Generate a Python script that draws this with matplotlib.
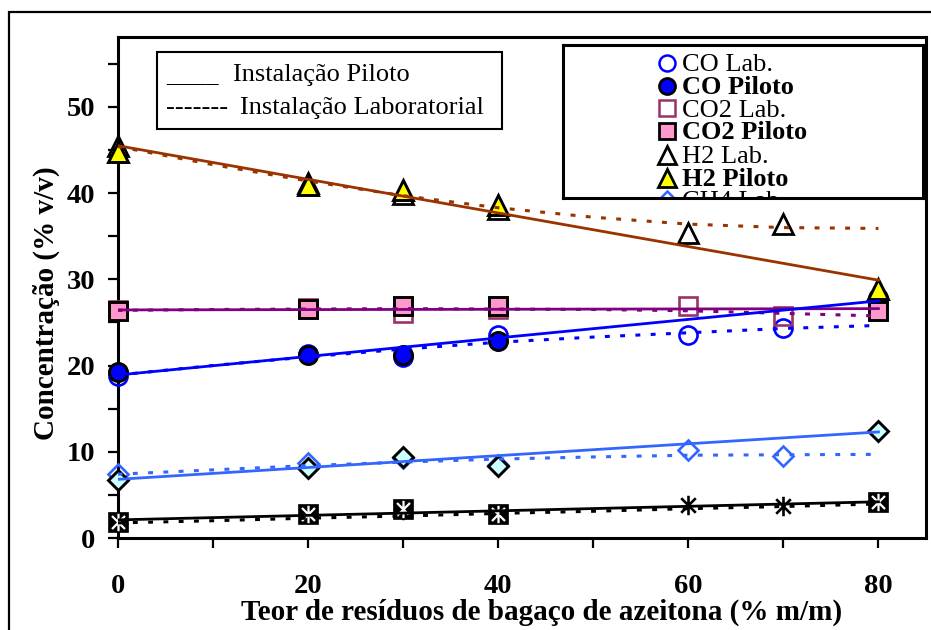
import numpy as np
import matplotlib
matplotlib.use('Agg')
import matplotlib.pyplot as plt
from matplotlib.path import Path
from matplotlib.patches import Rectangle

plt.rcParams['font.family'] = ['Liberation Serif', 'DejaVu Serif']

# ---------------- data ----------------
x_pilot = [0, 20, 30, 40, 80]
x_lab = [0, 20, 30, 40, 60, 70]

co_pilot = [19.2, 21.2, 21.2, 22.85, 27.8]
co_lab = [18.8, 21.3, 21.0, 23.5, 23.5, 24.4]
co2_pilot = [26.3, 26.55, 26.85, 26.9, 26.3]
co2_lab = [26.45, 26.65, 26.1, 26.6, 26.9, 25.7]
h2_pilot = [44.8, 40.9, 40.4, 38.6, 28.9]
h2_lab = [45.5, 41.2, 39.9, 38.2, 35.4, 36.4]
ch4_pilot = [6.7, 8.1, 9.45, 8.35, 12.4]
ch4_lab = [7.4, 8.65, 9.3, 8.5, 10.2, 9.55]
cxhy_pilot = [1.8, 2.8, 3.35, 2.75, 4.2]
cxhy_lab = [1.8, 2.8, 3.3, 2.8, 3.8, 3.75]

# trend lines (pilot: solid, lab: dotted)
x_fit_pilot = [0, 80]
co_fit_pilot = [18.9, 27.5]
co2_fit_pilot = [26.45, 26.6]
h2_fit_pilot = [45.5, 29.9]
ch4_fit_pilot = [6.8, 12.3]
cxhy_fit_pilot = [2.1, 4.2]

x_fit_lab = [0, 10, 20, 30, 40, 50, 60, 70, 80]
co_fit_lab = [18.9, 20.0, 21.0, 21.9, 22.7, 23.3, 23.8, 24.3, 24.65]
co2_fit_lab = [26.4, 26.5, 26.55, 26.6, 26.55, 26.5, 26.35, 26.05, 25.75]
h2_fit_lab = [45.4, 43.3, 41.4, 39.7, 38.3, 37.2, 36.4, 36.0, 35.9]
ch4_fit_lab = [7.4, 7.9, 8.4, 8.8, 9.15, 9.4, 9.6, 9.65, 9.7]
cxhy_fit_lab = [1.75, 2.0, 2.3, 2.55, 2.85, 3.1, 3.4, 3.65, 3.95]

legend_labels = ['CO Lab.', 'CO Piloto', 'CO2 Lab.', 'CO2 Piloto',
                 'H2 Lab.', 'H2 Piloto', 'CH4 Lab.']
style_labels = ['Instalação Piloto', 'Instalação Laboratorial']

x_ticks = [0, 20, 40, 60, 80]
y_ticks = [0, 10, 20, 30, 40, 50]

# ---------------- figure ----------------
W, H = 931, 630
fig = plt.figure(figsize=(W / 100, H / 100), dpi=100)

def fx(px):
    return px / W

def fy(py):
    return 1 - py / H

# outer frame (top and left edges visible)
fig.add_artist(Rectangle((fx(9), fy(700)), fx(1000), fy(12) - fy(700),
                         transform=fig.transFigure, fill=False,
                         lw=1.6, ec='black'))

ax_l, ax_r, ax_t, ax_b = 117.6, 926, 37, 538
ax = fig.add_axes([fx(ax_l), fy(ax_b), fx(ax_r - ax_l), fy(ax_t) - fy(ax_b)])
ax.set_xlim(0, 85)
ax.set_ylim(0, 58.1)
for s in ax.spines.values():
    s.set_linewidth(2.2)
ax.set_xticks(x_ticks)
ax.set_xticks([10, 30, 50, 70], minor=True)
ax.set_yticks(y_ticks)
ax.set_yticks([5, 15, 25, 35, 45, 55], minor=True)
ax.tick_params(axis='both', which='both', direction='out', length=7, width=1.6)
ax.tick_params(axis='x', which='major', pad=19, labelsize=20.5)
ax.tick_params(axis='y', which='major', pad=9, labelsize=20.5)
for lab in ax.get_xticklabels() + ax.get_yticklabels():
    lab.set_fontweight('bold')

# asterisk marker (vertical + X)
ast = Path([(0, -1), (0, 1), (-0.75, -0.75), (0.75, 0.75), (-0.75, 0.75), (0.75, -0.75)],
           [Path.MOVETO, Path.LINETO, Path.MOVETO, Path.LINETO, Path.MOVETO, Path.LINETO])

mk = dict(ls='none', clip_on=False)
# lab markers (hollow)
ax.plot(x_lab, co_lab, marker='o', ms=13, mfc='none', mec='#0000FF', mew=1.9, zorder=3, **mk)
ax.plot(x_lab, co2_lab, marker='s', ms=13, mfc='none', mec='#993366', mew=1.9, zorder=3, **mk)
ax.plot(x_lab, h2_lab, marker='^', ms=15, mfc='none', mec='black', mew=2.0, zorder=3, **mk)
ax.plot(x_lab, ch4_lab, marker='D', ms=10, mfc='none', mec='#3366FF', mew=1.9, zorder=3, **mk)
ax.plot(x_lab, cxhy_lab, marker=ast, ms=14, mfc='none', mec='black', mew=1.9, zorder=3, **mk)

# pilot markers (filled)
ax.plot(x_pilot, co_pilot, marker='o', ms=13, mfc='#0000FF', mec='black', mew=2.1, zorder=4, **mk)
ax.plot(x_pilot, co2_pilot, marker='s', ms=12.5, mfc='#FF99CC', mec='black', mew=2.1, zorder=4, **mk)
ax.plot(x_pilot, h2_pilot, marker='^', ms=15, mfc='#FFFF00', mec='black', mew=2.1, zorder=4, **mk)
ax.plot(x_pilot, ch4_pilot, marker='D', ms=10, mfc='#CCFFFF', mec='black', mew=2.1, zorder=4, **mk)
ax.plot(x_pilot, cxhy_pilot, marker='s', ms=14, mfc='black', mec='black', mew=0.5, zorder=4, **mk)
ax.plot(x_pilot, cxhy_pilot, marker=ast, ms=12.5, mfc='none', mec='white', mew=1.6, zorder=4.1, **mk)

# trend lines
dot = dict(lw=2.2, ls=(0, (1.6, 3.4)), zorder=5)
sol = dict(lw=2.0, ls='-', zorder=6)
ax.plot(x_fit_lab, h2_fit_lab, color='#993300', **dot)
ax.plot(x_fit_lab, co2_fit_lab, color='#800080', **dot)
ax.plot(x_fit_lab, co_fit_lab, color='#0000FF', **dot)
ax.plot(x_fit_lab, ch4_fit_lab, color='#3366FF', **dot)
ax.plot(x_fit_lab, cxhy_fit_lab, color='black', **dot)
ax.plot(x_fit_pilot, h2_fit_pilot, color='#993300', **sol)
ax.plot(x_fit_pilot, co2_fit_pilot, color='#800080', **sol)
ax.plot(x_fit_pilot, co_fit_pilot, color='#0000FF', **sol)
ax.plot(x_fit_pilot, ch4_fit_pilot, color='#3366FF', **sol)
ax.plot(x_fit_pilot, cxhy_fit_pilot, color='black', **sol)

# axis labels
fig.text(fx(542), fy(612), 'Teor de resíduos de bagaço de azeitona (% m/m)',
         ha='center', va='center', fontsize=21, fontweight='bold')
fig.text(fx(46), fy(303), 'Concentração (% v/v)', rotation=90,
         ha='center', va='center', fontsize=21, fontweight='bold')

# line-style legend box
fig.add_artist(Rectangle((fx(157), fy(129)), fx(502 - 157), fy(52) - fy(129),
                         transform=fig.transFigure, fill=False, lw=1.5, ec='black', zorder=10))
fig.text(fx(166), fy(81), '____', fontsize=19, ha='left', va='baseline')
fig.text(fx(233), fy(81), style_labels[0], fontsize=19, ha='left', va='baseline')
fig.text(fx(166), fy(114), '-------', fontsize=19, ha='left', va='baseline')
fig.text(fx(240), fy(114), style_labels[1], fontsize=19, ha='left', va='baseline')

# series legend (clipped box)
lx0, lx1, ly0, ly1 = 562.7, 923, 44.7, 198
lax = fig.add_axes([fx(lx0), fy(ly1), fx(lx1 - lx0), fy(ly0) - fy(ly1)])
lax.set_xlim(lx0, lx1)
lax.set_ylim(ly1, ly0)
lax.set_xticks([])
lax.set_yticks([])
for s in lax.spines.values():
    s.set_linewidth(2.2)
rows = [62.7, 85.7, 108.3, 131, 155, 177.7, 200]
styles = [
    dict(marker='o', ms=11.5, mfc='none', mec='#0000FF', mew=1.8),
    dict(marker='o', ms=11.5, mfc='#0000FF', mec='black', mew=2.0),
    dict(marker='s', ms=11.5, mfc='none', mec='#993366', mew=1.8),
    dict(marker='s', ms=11, mfc='#FF99CC', mec='black', mew=2.0),
    dict(marker='^', ms=12.5, mfc='none', mec='black', mew=2.0),
    dict(marker='^', ms=12.5, mfc='#FFFF00', mec='black', mew=2.0),
    dict(marker='D', ms=9, mfc='none', mec='#3366FF', mew=1.8),
]
for i, (ry, lab, st) in enumerate(zip(rows, legend_labels, styles)):
    lax.plot([667], [ry], ls='none', clip_on=True, **st)
    lax.text(682, ry + 8.5, lab, fontsize=19, ha='left', va='baseline',
             fontweight='bold' if 'Piloto' in lab else 'normal', clip_on=True)

fig.savefig('out.png', dpi=100)
